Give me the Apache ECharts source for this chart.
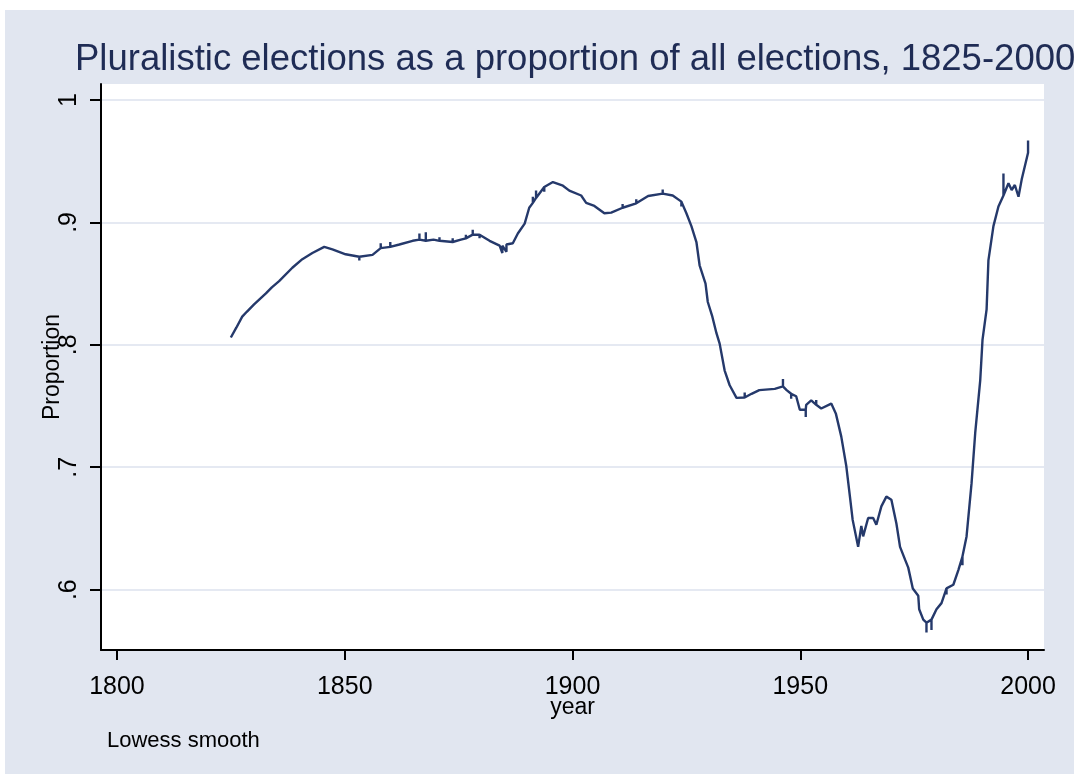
<!DOCTYPE html>
<html>
<head>
<meta charset="utf-8">
<title>Pluralistic elections</title>
<script src="https://cdn.jsdelivr.net/npm/echarts@6/dist/echarts.min.js"></script>
<style>
  html, body { margin: 0; padding: 0; background: #ffffff; }
  #chart { width: 1074px; height: 777px; }
</style>
</head>
<body>
<div id="chart"></div>
<script>
// Lowess-smoothed share of pluralistic elections by year.
// Repeated years carry the small vertical steps where several elections fall in one year.
const years = [
  1825, 1826.2, 1827.5, 1828.5, 1830.1, 1832.7, 1834, 1835.6, 1838.5, 1840.7,
  1842.9, 1845.5, 1847.3, 1850.2, 1853.2, 1853.2, 1853.2, 1856.1, 1857.9, 1857.9,
  1857.9, 1860, 1860, 1860, 1862, 1864.9, 1866.4, 1866.4, 1866.4, 1867.8,
  1867.8, 1867.8, 1869.5, 1870.8, 1870.8, 1870.8, 1873.7, 1873.7, 1873.7, 1875.5,
  1876.6, 1876.6, 1876.6, 1878.1, 1878.1, 1878.1, 1879.6, 1879.6, 1879.6, 1881.8,
  1884, 1884.6, 1884.6, 1885.5, 1885.5, 1886.9, 1888, 1889.5, 1890.5, 1891.3,
  1891.3, 1891.3, 1892, 1892, 1892, 1893.8, 1893.8, 1893.8, 1895.7, 1897.9,
  1899.3, 1901.9, 1903, 1904.8, 1907, 1908.5, 1911, 1911, 1911, 1914,
  1914, 1914, 1916.6, 1919.8, 1919.8, 1919.8, 1922, 1923.9, 1923.9, 1923.9,
  1925, 1926.1, 1927.2, 1927.9, 1929.2, 1929.7, 1930.7, 1931.6, 1932.3, 1933.4,
  1934.5, 1936, 1937.8, 1937.8, 1937.8, 1939.3, 1941, 1944.4, 1946.2, 1946.2,
  1946.2, 1947, 1948, 1948, 1948, 1949.1, 1949.9, 1951.2, 1951.2, 1951.2,
  1951.3, 1952.4, 1953.5, 1953.5, 1953.5, 1954.6, 1956.8, 1957.8, 1959, 1960.1,
  1960.9, 1961.5, 1962.7, 1963.4, 1963.8, 1964.9, 1966, 1966.7, 1967.8, 1968.9,
  1970, 1971.1, 1971.9, 1973, 1973.7, 1974.7, 1975.9, 1976.1, 1977, 1977.7,
  1977.7, 1977.7, 1978.8, 1978.8, 1978.8, 1979.9, 1981, 1982.1, 1982.1, 1982.1,
  1983.6, 1984.7, 1985.6, 1985.6, 1985.6, 1986.5, 1987.6, 1988.4, 1989.5, 1990,
  1990.9, 1991.3, 1992.4, 1993.5, 1994.6, 1994.6, 1994.6, 1995.7, 1996.4, 1997.1,
  1997.9, 1998.6, 2000, 2000
];
const proportions = [
  0.806, 0.814, 0.823, 0.827, 0.833, 0.842, 0.847, 0.852, 0.863, 0.870,
  0.875, 0.880, 0.878, 0.874, 0.872, 0.869, 0.872, 0.8735, 0.879, 0.883,
  0.879, 0.880, 0.884, 0.880, 0.882, 0.885, 0.886, 0.891, 0.886, 0.885,
  0.892, 0.885, 0.886, 0.885, 0.888, 0.885, 0.884, 0.887, 0.884, 0.886,
  0.887, 0.890, 0.887, 0.890, 0.894, 0.890, 0.890, 0.887, 0.890, 0.885,
  0.881, 0.875, 0.881, 0.876, 0.882, 0.883, 0.891, 0.899, 0.912, 0.916,
  0.921, 0.916, 0.920, 0.926, 0.920, 0.929, 0.925, 0.929, 0.933, 0.930,
  0.926, 0.922, 0.916, 0.9135, 0.9075, 0.908, 0.912, 0.915, 0.912, 0.9156,
  0.919, 0.9156, 0.9216, 0.9235, 0.927, 0.9235, 0.922, 0.917, 0.913, 0.917,
  0.9075, 0.897, 0.884, 0.865, 0.850, 0.835, 0.823, 0.8095, 0.801, 0.779,
  0.767, 0.7567, 0.757, 0.761, 0.757, 0.760, 0.763, 0.764, 0.766, 0.772,
  0.766, 0.763, 0.760, 0.756, 0.760, 0.758, 0.747, 0.747, 0.741, 0.747,
  0.751, 0.7546, 0.751, 0.755, 0.751, 0.748, 0.752, 0.744, 0.725, 0.701,
  0.676, 0.657, 0.635, 0.652, 0.6435, 0.6585, 0.6585, 0.653, 0.668, 0.676,
  0.6735, 0.654, 0.635, 0.6245, 0.618, 0.601, 0.595, 0.584, 0.5755, 0.573,
  0.565, 0.573, 0.5755, 0.567, 0.5755, 0.584, 0.589, 0.601, 0.596, 0.601,
  0.604, 0.616, 0.627, 0.620, 0.627, 0.6435, 0.687, 0.728, 0.771, 0.804,
  0.829, 0.869, 0.897, 0.913, 0.922, 0.940, 0.922, 0.932, 0.9265, 0.9306,
  0.921, 0.935, 0.957, 0.967
];
const xTicks = [1800, 1850, 1900, 1950, 2000];
const yTicks = [0.6, 0.7, 0.8, 0.9, 1];

const FONT = '"Liberation Sans", Arial, Helvetica, sans-serif';
const BG = '#e1e6f0';
const INK = '#000000';
const LINE = '#25396b';

const chart = echarts.init(document.getElementById('chart'), null, { renderer: 'canvas' });

chart.setOption({
  backgroundColor: '#ffffff',
  animation: false,
  textStyle: { fontFamily: FONT },
  graphic: [
    {
      type: 'rect',
      z: -10,
      silent: true,
      shape: { x: 5, y: 10, width: 1069, height: 764 },
      style: { fill: BG }
    },
    {
      type: 'text',
      left: 107,
      top: 730,
      style: { text: 'Lowess smooth', font: '22px ' + FONT, fill: INK }
    }
  ],
  title: {
    text: 'Pluralistic elections as a proportion of all elections, 1825-2000',
    left: 75,
    top: 41,
    padding: 0,
    textStyle: { fontFamily: FONT, fontSize: 36.5, fontWeight: 'normal', color: '#1f2c55' }
  },
  grid: {
    left: 101, right: 30, top: 84, bottom: 127,
    show: true, backgroundColor: '#ffffff', borderWidth: 0
  },
  xAxis: {
    type: 'value',
    min: 1796.5,
    max: 2003.5,
    name: 'year',
    nameLocation: 'middle',
    nameGap: 46,
    nameMoveOverlap: false,
    nameTextStyle: { fontFamily: FONT, fontSize: 23, color: INK },
    axisLine: { show: true, onZero: false, lineStyle: { color: INK, width: 2 } },
    axisTick: { show: true, length: 10, lineStyle: { color: INK, width: 2 }, customValues: xTicks },
    axisLabel: {
      customValues: xTicks, margin: 25, fontSize: 25, color: INK, fontFamily: FONT,
      formatter: function (v) { return String(Math.round(v)); }
    },
    splitLine: { show: false }
  },
  yAxis: {
    type: 'value',
    min: 0.5507,
    max: 1.0131,
    name: 'Proportion',
    nameLocation: 'middle',
    nameRotate: 90,
    nameGap: 37,
    nameMoveOverlap: false,
    nameTextStyle: { fontFamily: FONT, fontSize: 23, color: INK },
    axisLine: { show: true, onZero: false, lineStyle: { color: INK, width: 2 } },
    axisTick: { show: true, length: 11, lineStyle: { color: INK, width: 2 }, customValues: yTicks },
    axisLabel: {
      customValues: yTicks,
      rotate: 90,
      margin: 19,
      fontSize: 25,
      color: INK,
      fontFamily: FONT,
      formatter: function (v) {
        const r = Math.round(v * 10) / 10;
        return r === 1 ? '1' : String(r).replace(/^0/, '');
      }
    },
    splitLine: { show: true, lineStyle: { color: '#dde2ee', width: 1.5 } }
  },
  series: [
    {
      type: 'line',
      data: years.map((y, i) => [y, proportions[i]]),
      showSymbol: false,
      smooth: false,
      clip: true,
      lineStyle: { color: LINE, width: 2.4 },
      emphasis: { disabled: true }
    }
  ]
});
</script>
</body>
</html>
